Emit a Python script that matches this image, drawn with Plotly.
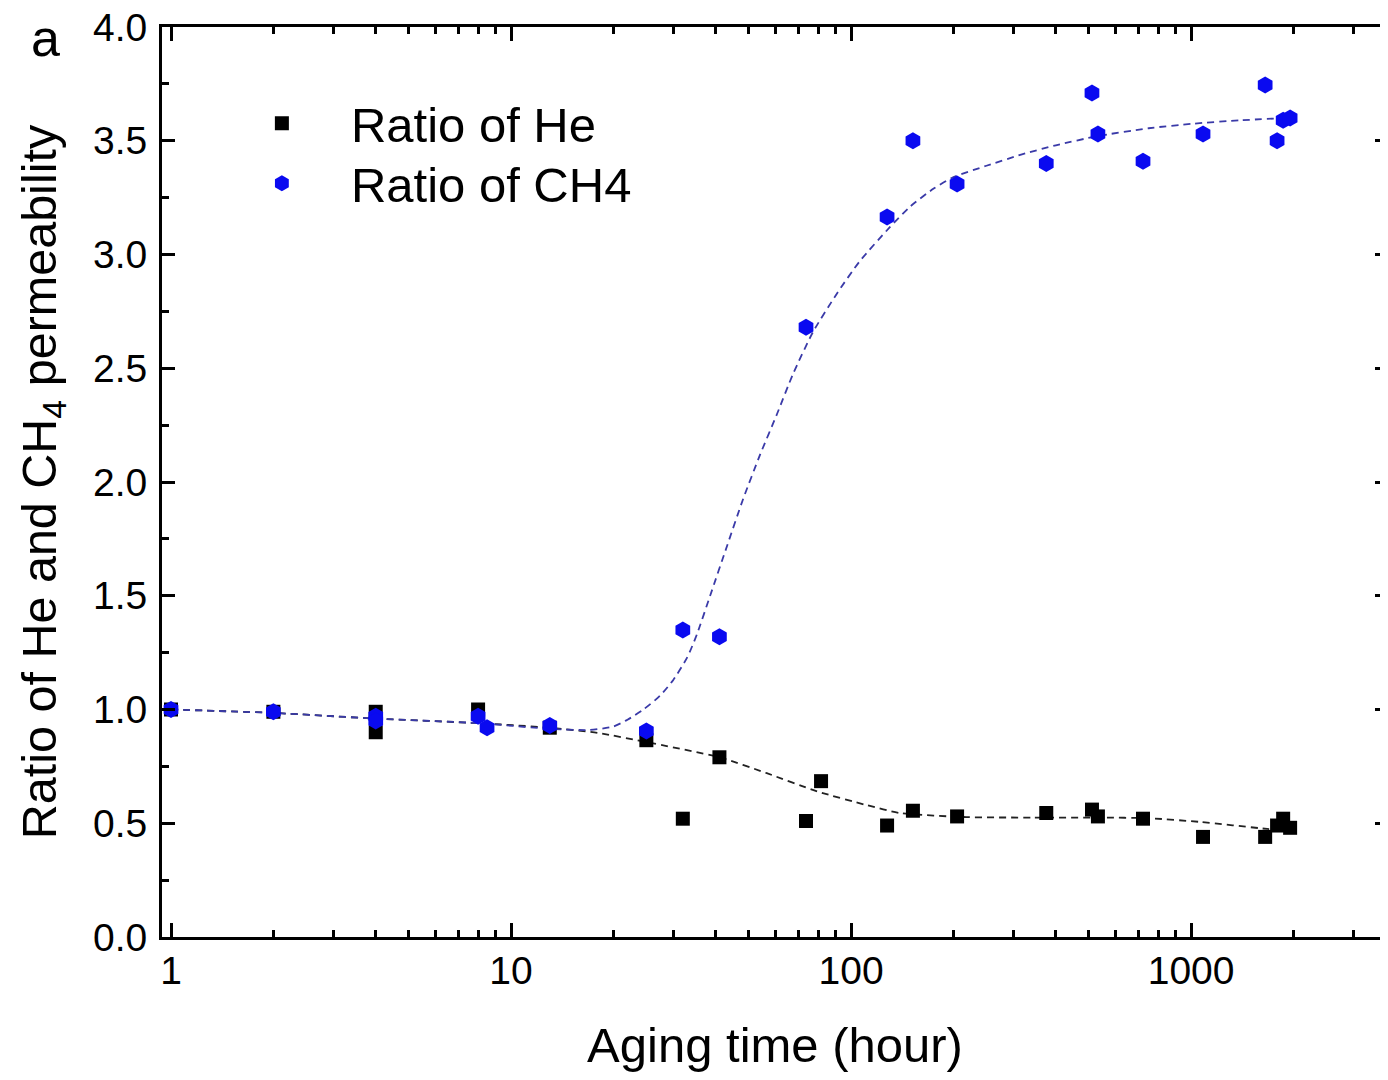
import plotly.graph_objects as go

# He ratio data (black squares)
he_x = [1, 2, 4, 4, 8, 13, 25, 32, 41, 73.7, 81.6, 127.6, 152, 205, 375, 511, 532, 722, 1084, 1651, 1790, 1865, 1955]
he_y = [1.0, 0.99, 0.99, 0.90, 1.0, 0.92, 0.865, 0.52, 0.79, 0.51, 0.685, 0.49, 0.555, 0.53, 0.545, 0.56, 0.53, 0.52, 0.44, 0.44, 0.49, 0.52, 0.48]

# CH4 ratio data (blue hexagons)
ch4_x = [1, 2, 4, 4, 8, 8.5, 13, 25, 32, 41, 73.7, 127.6, 152, 205, 375, 511, 532, 722, 1084, 1651, 1790, 1865, 1955]
ch4_y = [1.0, 0.99, 0.97, 0.95, 0.97, 0.92, 0.93, 0.905, 1.35, 1.32, 2.68, 3.165, 3.50, 3.31, 3.40, 3.71, 3.53, 3.41, 3.53, 3.745, 3.50, 3.59, 3.60]

# Fit curves
he_fit_x = [1, 2, 4, 8, 13, 18, 25, 41, 56.5, 79.5, 111, 139, 218, 344, 539, 755, 1059, 1673, 1850]
he_fit_y = [1.0, 0.985, 0.96, 0.94, 0.92, 0.897, 0.857, 0.79, 0.72, 0.64, 0.58, 0.545, 0.527, 0.525, 0.525, 0.522, 0.506, 0.475, 0.47]

ch4_fit_x = [1, 2, 4, 8, 13, 17, 20, 22, 24.5, 27.4, 30, 33, 35.2, 38.5, 43.2, 48, 54, 60.6, 67.5, 77.3, 91, 106,
             130, 149, 175, 200, 250, 318, 400, 529, 750, 1014, 1400, 1900]
ch4_fit_y = [1.0, 0.985, 0.96, 0.94, 0.915, 0.91, 0.925, 0.955, 1.0, 1.06, 1.13, 1.23, 1.33, 1.50, 1.72, 1.92, 2.12, 2.30, 2.475, 2.66, 2.83, 2.97,
             3.12, 3.21, 3.29, 3.34, 3.39, 3.44, 3.48, 3.52, 3.555, 3.575, 3.59, 3.6]

x_tickvals = [1, 10, 100, 1000]
x_ticktext = ["1", "10", "100", "1000"]

FONT = "Arial, Liberation Sans, sans-serif"

# page has an 8px body margin: figure is sized so it fills the 1388x1080 window exactly
fig = go.Figure()
fig.add_trace(go.Scatter(x=he_fit_x, y=he_fit_y, mode="lines", showlegend=False,
                         line=dict(color="#222222", width=1.8, dash="7px,5px", shape="spline", smoothing=0.6)))
fig.add_trace(go.Scatter(x=ch4_fit_x, y=ch4_fit_y, mode="lines", showlegend=False,
                         line=dict(color="#3a3aa8", width=1.8, dash="7px,5px", shape="spline", smoothing=0.6)))
fig.add_trace(go.Scatter(x=he_x, y=he_y, mode="markers", name="Ratio of He", legend="legend",
                         marker=dict(symbol="square", size=14, color="black")))
fig.add_trace(go.Scatter(x=ch4_x, y=ch4_y, mode="markers", name="Ratio of CH4", legend="legend2",
                         marker=dict(symbol="hexagon", size=17, color="#0a0af0")))

leg_common = dict(xanchor="left", yanchor="top", font=dict(size=49, family=FONT), itemwidth=128,
                  bgcolor="rgba(0,0,0,0)")
fig.update_layout(
    width=1380, height=1064,
    margin=dict(l=154, r=0, t=19, b=135, autoexpand=False),
    plot_bgcolor="white", paper_bgcolor="white",
    font=dict(family=FONT, color="black"),
    showlegend=True,
    legend=dict(x=0.0415, y=0.9365, **leg_common),
    legend2=dict(x=0.0415, y=0.8705, **leg_common),
)

fig.update_xaxes(
    type="log", range=[-0.0265, 3.579], automargin=False,
    showline=True, linecolor="black", linewidth=3, mirror="ticks",
    ticks="inside", ticklen=14, tickwidth=2.5, tickcolor="black",
    tickvals=x_tickvals, ticktext=x_ticktext, ticklabeloverflow="allow",
    tickfont=dict(size=39, family=FONT), ticklabelstandoff=-3,
    minor=dict(ticks="inside", ticklen=7, tickwidth=2.5, tickcolor="black", dtick="D1", showgrid=False),
    showgrid=False, zeroline=False,
    title=dict(text="Aging time (hour)", font=dict(size=49, family=FONT), standoff=44),
)
fig.update_yaxes(
    range=[0, 4], automargin=False,
    showline=True, linecolor="black", linewidth=3, mirror="ticks",
    ticks="inside", ticklen=13, tickwidth=2.5, tickcolor="black",
    dtick=0.5, tick0=0, tickformat=".1f", ticklabeloverflow="allow",
    tickfont=dict(size=39, family=FONT), ticklabelstandoff=4,
    minor=dict(ticks="inside", ticklen=7, tickwidth=2.5, tickcolor="black", dtick=0.25, showgrid=False),
    showgrid=False, zeroline=False,
    title=dict(text="Ratio of He and CH<sub>4</sub> permeability", font=dict(size=48.5, family=FONT), standoff=22),
)

fig.add_annotation(text="a", x=(45 - 162) / 1226, y=(937 - 38) / 910, xref="paper", yref="paper",
                   showarrow=False, xanchor="center", yanchor="middle",
                   font=dict(size=52, family=FONT))

fig.write_html("out.html")
